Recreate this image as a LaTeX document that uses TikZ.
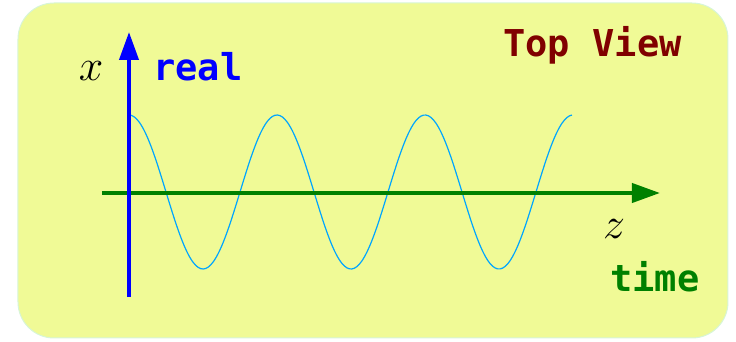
\documentclass[tikz,border=0pt]{standalone}
\usepackage{fix-cm}
\usepackage{fontspec}
\setmonofont{DejaVu Sans Mono}
\usetikzlibrary{arrows.meta}
\definecolor{panelfill}{RGB}{240,250,150}
\definecolor{paneledge}{RGB}{215,245,215}
\definecolor{wavecyan}{RGB}{0,165,255}
\definecolor{axisgreen}{RGB}{0,128,0}
\definecolor{titlered}{RGB}{128,0,0}

\begin{document}
\begin{tikzpicture}[
        x=0.5pt, y=-0.5pt,
        axis/.style={line width=2pt, -{Triangle[length=14pt, width=9.5pt]}},
        tag/.style={font=\fontsize{18.5}{20}\selectfont\ttfamily\bfseries, anchor=base west, inner sep=0pt},
        var/.style={font=\fontsize{22}{24}\selectfont, anchor=base, inner sep=0pt},
        wave/.style={wavecyan, line width=0.6pt}
    ]
        \useasboundingbox (0,0) rectangle (736,342);
        % panel
        \draw[paneledge, fill=panelfill, line width=0.5pt, rounded corners=18pt] (18,3) rectangle (728,338);

        % axis end points
        \coordinate (xfoot) at (129,297);
        \coordinate (xtip) at (129,32);
        \coordinate (zfoot) at (102,193);
        \coordinate (ztip) at (660,193);

        % the wave, three periods
        \draw[wave] plot[domain=129:572, samples=180, smooth] (\x, {192 - 77*cos(deg((\x-129)/148*2*pi))});

        % axes
        \draw[axis, axisgreen] (zfoot) -- (ztip);
        \draw[axis, blue] (xfoot) -- (xtip);

        % labels
        \node[var] (xvar) at (91,81) {$x$};
        \node[var] (zvar) at (614,239) {$z$};
        \node[tag, blue] (realtag) at (153,81) {real};
        \node[tag, titlered] (viewtag) at (503,57) {Top View};
        \node[tag, axisgreen] (timetag) at (610,292) {time};
    \end{tikzpicture}
\end{document}
